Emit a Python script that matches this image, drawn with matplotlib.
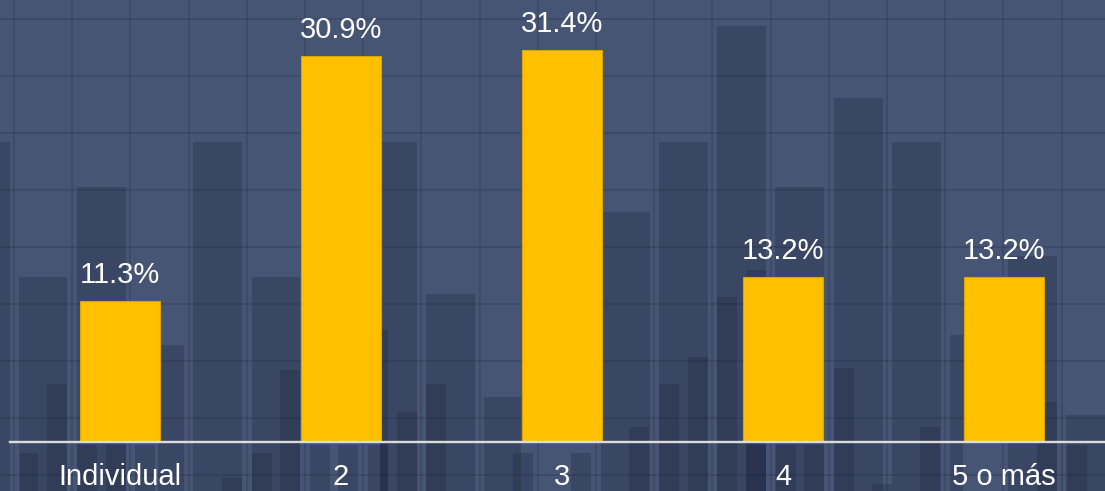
import matplotlib
matplotlib.use("Agg")
import matplotlib.pyplot as plt

# chart data
categories = ["Individual", "2", "3", "4", "5 o más"]
shares = [11.3, 30.9, 31.4, 13.2, 13.2]
value_labels = ["11.3%", "30.9%", "31.4%", "13.2%", "13.2%"]

# decorative backdrop (pixel space): left edge, width, top of each dark column
bg_left = [0, 19, 77, 47, 158, 193, 252, 280, 380, 380, 397, 426, 426, 484,
           601, 629, 659, 688, 717, 717, 746, 775, 834, 834, 892, 920, 950,
           1008, 1037, 1066, 659,
           20, 77, 106, 135, 222, 252, 310, 338, 368, 513, 571, 746, 776,
           804, 872, 1067]
bg_width = [10, 48, 49, 20, 26, 49, 48, 20, 37, 8, 20, 49, 20, 37,
            49, 20, 49, 20, 49, 20, 20, 49, 20, 49, 49, 20, 13,
            49, 20, 39, 20,
            18, 20, 20, 20, 20, 20, 20, 20, 20, 20, 20, 20, 20,
            20, 20, 20]
bg_top = [142, 277, 187, 384, 345, 142, 277, 370, 142, 330, 412, 294, 384, 397,
          212, 427, 142, 357, 26, 297, 270, 187, 368, 98, 142, 427, 335,
          256, 402, 415, 384,
          453, 445, 445, 445, 478, 453, 445, 445, 445, 453, 453, 445, 445,
          445, 484, 445]

W, H = 1105, 491
fig = plt.figure(figsize=(W / 100, H / 100), dpi=100)
fig.patch.set_facecolor('#465574')

# background layer
ax_bg = fig.add_axes([0, 0, 1, 1])
ax_bg.set_xlim(0, W)
ax_bg.set_ylim(H, 0)
ax_bg.set_facecolor('#465574')
ax_bg.bar(bg_left, [H - t for t in bg_top], width=bg_width, bottom=bg_top,
          align='edge', color='#0d1326', alpha=0.2, linewidth=0, zorder=1)
x = 14.0
while x < W:
    ax_bg.axvline(x, color='#101830', alpha=0.18, lw=1.3, zorder=2)
    x += 58.2
y = 19.3
while y < H:
    ax_bg.axhline(y, color='#101830', alpha=0.18, lw=1.3, zorder=2)
    y += 57.0
ax_bg.axis('off')

# data layer
base_px = 49
ax = fig.add_axes([0, base_px / H, 1, (H - base_px) / H])
ax.patch.set_alpha(0)
px_per_unit = 12.48
ax.set_ylim(0, (H - base_px) / px_per_unit)
ax.set_xlim(-0.543, 4.457)

pos = list(range(len(categories)))
bars = ax.bar(pos, shares, width=0.36, color='#FFC000', edgecolor='#d9a400',
              linewidth=0.8, zorder=3)
for bar, lab in zip(bars, value_labels):
    ax.annotate(lab, xy=(bar.get_x() + bar.get_width() / 2, bar.get_height()),
                xytext=(0, 13), textcoords='offset points',
                ha='center', va='baseline', color='white', fontsize=21,
                family=['Liberation Sans', 'DejaVu Sans'])

ax.axhline(0, xmin=10 / W, xmax=1, color='#dcdcdc', lw=1.7, zorder=4,
           clip_on=False)
ax.set_xticks(pos)
ax.set_xticklabels(categories, color='white', fontsize=21,
                   family=['Liberation Sans', 'DejaVu Sans'])
ax.tick_params(axis='x', length=0, pad=15)
ax.set_yticks([])
for spine in ax.spines.values():
    spine.set_visible(False)

fig.savefig('out.png', dpi=100, facecolor=fig.get_facecolor())
